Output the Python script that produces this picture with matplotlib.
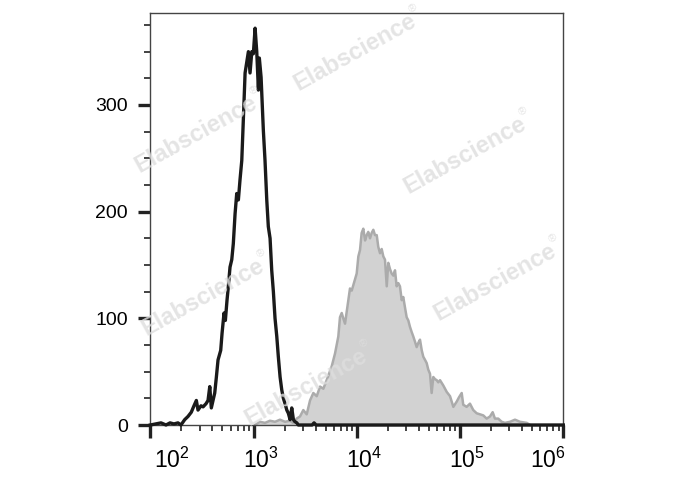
import numpy as np
import matplotlib
matplotlib.use("Agg")
import matplotlib.pyplot as plt
from matplotlib.transforms import ScaledTranslation

plt.rcParams['font.family'] = ['Liberation Sans', 'DejaVu Sans']
plt.rcParams['mathtext.fontset'] = 'custom'
plt.rcParams['mathtext.rm'] = 'Liberation Sans'
plt.rcParams['mathtext.it'] = 'Liberation Sans'

# ---- data (log10 of fluorescence intensity, cell counts) ----
control_log = [2.000, 2.104, 2.152, 2.191, 2.229, 2.268, 2.297, 2.333, 2.365, 2.397,
               2.423, 2.446, 2.462, 2.491, 2.511, 2.540, 2.559, 2.576, 2.591, 2.624,
               2.640, 2.656, 2.682, 2.695, 2.714, 2.727, 2.743, 2.756, 2.772, 2.789,
               2.804, 2.821, 2.837, 2.853, 2.869, 2.886, 2.901, 2.918, 2.950, 2.966,
               2.983, 2.998, 3.015, 3.031, 3.047, 3.056, 3.073, 3.095, 3.111, 3.128,
               3.143, 3.160, 3.176, 3.192, 3.208, 3.225, 3.240, 3.257, 3.273, 3.289,
               3.305, 3.322, 3.337, 3.354, 3.370, 3.386, 3.402, 3.419, 3.434, 3.567,
               3.586, 3.606, 6.000]
control_count = [0, 2, 0, 2, 1, 2, 0, 5, 8, 12,
                 18, 23, 14, 18, 17, 20, 23, 36, 16, 30,
                 45, 61, 70, 86, 105, 98, 117, 130, 148, 155,
                 170, 198, 217, 211, 230, 248, 286, 330, 350, 330,
                 350, 348, 372, 350, 314, 344, 326, 276, 248, 211,
                 186, 175, 145, 125, 100, 83, 64, 45, 33, 25,
                 20, 14, 11, 5, 16, 5, 3, 2, 0, 0,
                 2, 0, 0]

stained_log = [3.014, 3.062, 3.111, 3.159, 3.208, 3.256, 3.305, 3.353, 3.382, 3.418,
               3.450, 3.482, 3.515, 3.547, 3.579, 3.612, 3.644, 3.676, 3.708, 3.731,
               3.757, 3.789, 3.821, 3.837, 3.854, 3.869, 3.886, 3.918, 3.934, 3.951,
               3.966, 3.999, 4.015, 4.031, 4.047, 4.063, 4.080, 4.096, 4.111, 4.128,
               4.144, 4.160, 4.176, 4.193, 4.208, 4.225, 4.241, 4.257, 4.273, 4.290,
               4.305, 4.322, 4.338, 4.354, 4.370, 4.386, 4.402, 4.418, 4.435, 4.450,
               4.467, 4.483, 4.499, 4.515, 4.532, 4.547, 4.564, 4.580, 4.596, 4.612,
               4.629, 4.644, 4.661, 4.677, 4.692, 4.709, 4.725, 4.741, 4.757, 4.774,
               4.789, 4.806, 4.838, 4.871, 4.903, 4.935, 4.968, 4.990, 5.016, 5.031,
               5.064, 5.096, 5.128, 5.161, 5.193, 5.225, 5.258, 5.290, 5.316, 5.338,
               5.370, 5.403, 5.435, 5.484, 5.532, 5.580, 5.646, 5.678]
stained_count = [0, 3, 2, 4, 3, 5, 3, 4, 2, 6,
                 8, 14, 10, 23, 30, 27, 36, 34, 42, 48,
                 55, 67, 83, 101, 105, 100, 95, 117, 128, 126,
                 131, 142, 158, 164, 180, 184, 173, 178, 181, 175,
                 180, 183, 178, 178, 167, 161, 165, 158, 155, 130,
                 152, 146, 142, 140, 145, 130, 133, 130, 117, 120,
                 110, 101, 98, 92, 87, 83, 78, 73, 77, 80,
                 70, 64, 61, 58, 52, 48, 30, 45, 43, 42,
                 40, 42, 37, 31, 27, 17, 22, 26, 30, 19,
                 17, 20, 14, 11, 10, 9, 6, 8, 12, 6,
                 6, 3, 2, 3, 5, 3, 2, 0]

x_major = [1e2, 1e3, 1e4, 1e5, 1e6]
x_labels = [r'$10^{2}$', r'$10^{3}$', r'$10^{4}$', r'$10^{5}$', r'$10^{6}$']
y_major = [0, 100, 200, 300]
y_labels = ['0', '100', '200', '300']
watermark = 'Elabscience'
watermark_mark = '\u00ae'

# ---- figure ----
fig = plt.figure(figsize=(6.88, 4.90), dpi=100)
ax = fig.add_axes([150.3 / 688, 1 - 425 / 490, (563.3 - 150.3) / 688, (425 - 12.7) / 490])

xs = 10 ** np.array(stained_log)
ax.fill_between(xs, stained_count, 0, color='#d2d2d2', linewidth=0, zorder=1)
ax.plot(xs, stained_count, color='#ababab', linewidth=1.8, zorder=2)

ax.plot(10 ** np.array(control_log), control_count, color='#1a1a1a', linewidth=2.4,
        zorder=4, clip_on=False)

ax.set_xscale('log')
ax.set_xlim(1e2, 1e6)
ax.set_ylim(0, 386.5)

ax.set_xticks(x_major)
ax.set_xticklabels(x_labels, fontsize=16.5)
ax.set_xticks([m * 10 ** k for k in range(2, 6) for m in range(2, 10)], minor=True)
ax.set_yticks(y_major)
ax.set_yticklabels(y_labels, fontsize=14)
ax.set_yticks(np.arange(25, 386, 25), minor=True)

ax.tick_params(axis='both', which='major', direction='out', length=9, width=2.4,
               color='#222222')
ax.tick_params(axis='both', which='minor', direction='out', length=4, width=1.2,
               color='#222222')
ax.tick_params(axis='x', which='major', pad=7)
ax.tick_params(axis='y', which='major', pad=7)
for s in ax.spines.values():
    s.set_color('#444444')
    s.set_linewidth(1.0)

shifts = [22, 7, 7, 7, -15]
for lab, dx in zip(ax.get_xticklabels(), shifts):
    lab.set_transform(lab.get_transform() + ScaledTranslation(dx / 100, 0, fig.dpi_scale_trans))

# watermarks (figure pixel centres)
ang = np.deg2rad(29)
for cx, cy in [(355, 52), (196, 134), (465, 155), (203, 297), (495, 282), (306, 387)]:
    fig.text(cx / 688, 1 - cy / 490, watermark, rotation=29, fontsize=17,
             fontweight='bold', color='#dedede', alpha=0.8, ha='center', va='center',
             rotation_mode='anchor', zorder=3)
    # registered mark: just past the end of the word, slightly raised
    px = cx + 72 * np.cos(ang) - 10 * np.sin(ang)
    py = cy - 72 * np.sin(ang) - 10 * np.cos(ang)
    fig.text(px / 688, 1 - py / 490, watermark_mark, rotation=29, fontsize=8,
             color='#dedede', alpha=0.8, ha='center', va='center',
             rotation_mode='anchor', zorder=3)

fig.savefig('out.png', dpi=100)
